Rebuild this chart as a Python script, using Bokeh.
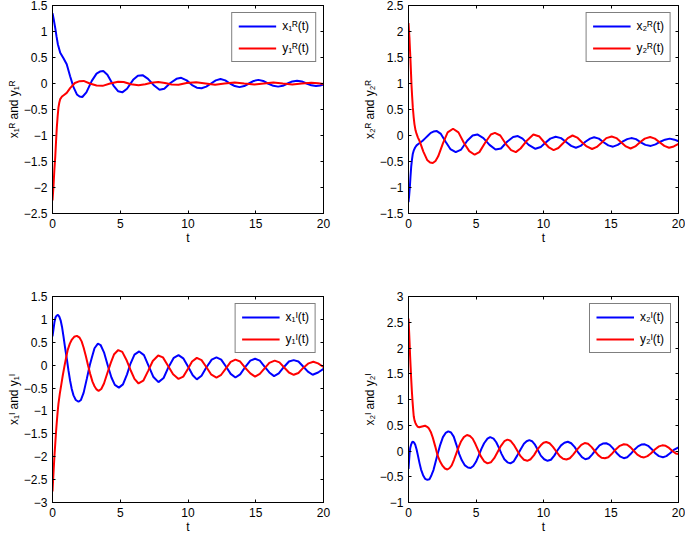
from bokeh.plotting import figure
from bokeh.models import Range1d, LinearAxis, FixedTicker, Legend, LegendItem
from bokeh.layouts import gridplot
from bokeh.embed import file_html
from bokeh.resources import INLINE

# ---------------- data ----------------
X_TICKS = [0, 5, 10, 15, 20]

# Panel 1 (top-left)
T_X1R = [0.0, 0.1, 0.2, 0.3, 0.4, 0.57, 0.8, 1.05, 1.3, 1.55, 1.8, 2.0, 2.2, 2.5, 2.9, 3.25, 3.5, 3.75,
         4.05, 4.5, 4.85, 5.15, 5.5, 5.95, 6.3, 6.65, 7.05, 7.5, 7.9, 8.25, 8.7, 9.15, 9.5, 9.9, 10.3,
         10.65, 11.0, 11.35, 11.7, 12.05, 12.4, 12.75, 13.1, 13.45, 13.8, 14.15, 14.5, 14.85, 15.2,
         15.55, 15.9, 16.3, 16.65, 17.0, 17.35, 17.7, 18.05, 18.4, 18.75, 19.1, 19.45, 19.75, 20.0]
V_X1R = [1.35, 1.22, 1.07, 0.9, 0.75, 0.59, 0.49, 0.37, 0.14, -0.07, -0.21, -0.25, -0.26, -0.17, 0.05,
         0.19, 0.23, 0.24, 0.17, -0.04, -0.15, -0.17, -0.10, 0.07, 0.15, 0.16, 0.09, -0.04, -0.12, -0.10,
         0.01, 0.09, 0.11, 0.06, -0.03, -0.08, -0.09, -0.06, 0.0, 0.06, 0.085, 0.06, 0.0, -0.05, -0.07,
         -0.05, 0.0, 0.05, 0.07, 0.05, 0.0, -0.045, -0.06, -0.045, 0.0, 0.04, 0.055, 0.04, 0.0, -0.035,
         -0.05, -0.04, -0.02]
T_Y1R = [0.0, 0.07, 0.14, 0.2, 0.26, 0.32, 0.38, 0.44, 0.5, 0.57, 0.7, 0.85, 1.05, 1.3, 1.65, 2.0, 2.3,
         2.75, 3.25, 3.7, 4.25, 4.85, 5.25, 5.8, 6.35, 6.85, 7.3, 7.8, 8.3, 8.8, 9.3, 9.9, 10.6, 11.3,
         12.0, 12.7, 13.45, 14.15, 14.9, 15.6, 16.3, 17.0, 17.7, 18.4, 19.1, 19.6, 20.0]
V_Y1R = [-2.25, -1.99, -1.65, -1.42, -1.12, -0.84, -0.63, -0.46, -0.37, -0.30, -0.25, -0.22, -0.18,
         -0.09, 0.01, 0.045, 0.05, 0.0, -0.04, -0.045, 0.0, 0.035, 0.03, -0.015, -0.035, -0.015, 0.015,
         0.03, 0.01, -0.02, -0.025, 0.01, 0.025, 0.0, -0.025, 0.0, 0.02, 0.0, -0.02, 0.0, 0.02, 0.0,
         -0.018, 0.0, 0.015, 0.005, -0.01]
Y1R_TICKS = [-2.5, -2, -1.5, -1, -0.5, 0, 0.5, 1, 1.5]

# Panel 2 (top-right)
T_X2R = [0.0, 0.05, 0.1, 0.15, 0.2, 0.26, 0.32, 0.4, 0.49, 0.6, 0.75, 0.9, 1.05, 1.25, 1.45, 1.65, 1.85,
         2.1, 2.4, 2.75, 3.1, 3.5, 3.9, 4.35, 4.75, 5.1, 5.55, 6.0, 6.45, 6.85, 7.3, 7.75, 8.1, 8.45, 8.9,
         9.4, 9.8, 10.1, 10.5, 10.9, 11.3, 11.7, 12.05, 12.4, 12.75, 13.1, 13.45, 13.75, 14.1, 14.45,
         14.8, 15.15, 15.5, 15.85, 16.2, 16.5, 16.85, 17.2, 17.55, 17.95, 18.3, 18.65, 19.0, 19.35,
         19.7, 20.0]
V_X2R = [-1.28, -1.15, -0.99, -0.78, -0.6, -0.46, -0.35, -0.28, -0.23, -0.19, -0.16, -0.13, -0.10, -0.05,
         0.0, 0.05, 0.075, 0.085, 0.03, -0.12, -0.26, -0.32, -0.27, -0.1, 0.0, 0.02, -0.05, -0.18, -0.27,
         -0.25, -0.12, -0.03, -0.01, -0.06, -0.18, -0.255, -0.22, -0.15, -0.06, -0.025, -0.05, -0.13,
         -0.2, -0.235, -0.2, -0.12, -0.06, -0.035, -0.06, -0.13, -0.19, -0.215, -0.18, -0.12, -0.07,
         -0.05, -0.07, -0.13, -0.18, -0.2, -0.17, -0.12, -0.08, -0.06, -0.08, -0.11]
T_Y2R = [0.0, 0.04, 0.07, 0.11, 0.15, 0.19, 0.22, 0.27, 0.32, 0.38, 0.44, 0.52, 0.6, 0.7, 0.81, 0.95, 1.1,
         1.38, 1.6, 1.8, 2.0, 2.2, 2.55, 2.9, 3.3, 3.7, 4.1, 4.5, 4.9, 5.25, 5.7, 6.1, 6.4, 6.8, 7.2, 7.6,
         7.95, 8.3, 8.8, 9.25, 9.7, 10.05, 10.4, 10.75, 11.1, 11.45, 11.8, 12.15, 12.5, 12.85, 13.2,
         13.6, 13.95, 14.3, 14.65, 15.05, 15.4, 15.75, 16.1, 16.45, 16.8, 17.15, 17.5, 17.9, 18.25,
         18.6, 18.95, 19.3, 19.65, 20.0]
V_Y2R = [2.16, 2.0, 1.88, 1.65, 1.43, 1.18, 0.98, 0.75, 0.54, 0.36, 0.22, 0.1, 0.03, -0.04, -0.1, -0.2,
         -0.31, -0.47, -0.52, -0.53, -0.49, -0.4, -0.15, 0.06, 0.13, 0.06, -0.14, -0.3, -0.37, -0.32,
         -0.13, 0.02, 0.05, 0.0, -0.16, -0.28, -0.32, -0.25, -0.09, 0.02, -0.02, -0.13, -0.23, -0.28,
         -0.24, -0.15, -0.05, 0.0, -0.04, -0.13, -0.21, -0.26, -0.22, -0.14, -0.05, -0.02, -0.05, -0.13,
         -0.21, -0.25, -0.21, -0.13, -0.06, -0.03, -0.06, -0.13, -0.2, -0.235, -0.21, -0.16]
Y2R_TICKS = [-1.5, -1, -0.5, 0, 0.5, 1, 1.5, 2, 2.5]

# Panel 3 (bottom-left)
T_X1I = [0.0, 0.08, 0.15, 0.22, 0.3, 0.4, 0.5, 0.6, 0.7, 0.81, 0.93, 1.06, 1.18, 1.3, 1.42, 1.55, 1.72,
         1.92, 2.1, 2.3, 2.53, 2.75, 2.9, 3.1, 3.35, 3.55, 3.8, 4.1, 4.35, 4.6, 4.9, 5.2, 5.5, 5.75, 6.05,
         6.4, 6.75, 7.1, 7.45, 7.82, 8.2, 8.55, 8.95, 9.3, 9.65, 10.0, 10.35, 10.65, 11.0, 11.35, 11.75,
         12.1, 12.45, 12.8, 13.15, 13.5, 13.85, 14.2, 14.6, 14.95, 15.3, 15.65, 16.0, 16.35, 16.7,
         17.05, 17.45, 17.8, 18.15, 18.5, 18.85, 19.2, 19.6, 20.0]
V_X1I = [0.63, 0.8, 0.95, 1.04, 1.08, 1.1, 1.06, 0.98, 0.84, 0.63, 0.38, 0.13, -0.12, -0.34, -0.52, -0.66,
         -0.76, -0.8, -0.76, -0.6, -0.3, 0.0, 0.16, 0.37, 0.47, 0.44, 0.28, -0.03, -0.27, -0.43, -0.49,
         -0.42, -0.2, 0.03, 0.23, 0.3, 0.22, -0.02, -0.26, -0.37, -0.28, -0.05, 0.16, 0.22, 0.15, -0.03,
         -0.22, -0.31, -0.23, -0.05, 0.12, 0.17, 0.12, -0.03, -0.19, -0.27, -0.2, -0.05, 0.1, 0.14, 0.1,
         -0.03, -0.16, -0.24, -0.18, -0.05, 0.08, 0.11, 0.08, -0.03, -0.14, -0.21, -0.16, -0.08]
T_Y1I = [0.0, 0.07, 0.14, 0.2, 0.26, 0.32, 0.38, 0.44, 0.54, 0.64, 0.76, 0.89, 1.0, 1.13, 1.28, 1.43, 1.6,
         1.8, 2.0, 2.15, 2.3, 2.46, 2.62, 2.78, 2.95, 3.1, 3.25, 3.4, 3.6, 3.8, 4.05, 4.3, 4.55, 4.85,
         5.15, 5.45, 5.75, 6.05, 6.35, 6.7, 7.05, 7.4, 7.8, 8.15, 8.5, 8.9, 9.3, 9.65, 10.0, 10.3, 10.65,
         11.0, 11.35, 11.7, 12.1, 12.45, 12.8, 13.15, 13.5, 13.85, 14.2, 14.6, 14.95, 15.3, 15.65, 16.0,
         16.4, 16.75, 17.1, 17.45, 17.8, 18.15, 18.5, 18.9, 19.25, 19.6, 20.0]
V_Y1I = [-2.76, -2.37, -2.0, -1.73, -1.46, -1.23, -1.02, -0.84, -0.62, -0.44, -0.22, -0.01, 0.16, 0.34,
         0.47, 0.56, 0.62, 0.64, 0.6, 0.52, 0.38, 0.2, 0.0, -0.19, -0.36, -0.46, -0.53, -0.56, -0.52,
         -0.4, -0.17, 0.05, 0.24, 0.33, 0.29, 0.12, -0.1, -0.3, -0.4, -0.34, -0.13, 0.09, 0.21, 0.17, 0.0,
         -0.2, -0.3, -0.25, -0.08, 0.08, 0.16, 0.11, -0.04, -0.2, -0.27, -0.21, -0.07, 0.07, 0.12, 0.08,
         -0.05, -0.18, -0.25, -0.19, -0.07, 0.05, 0.1, 0.06, -0.05, -0.16, -0.21, -0.17, -0.06, 0.04,
         0.075, 0.04, -0.04]
Y1I_TICKS = [-3, -2.5, -2, -1.5, -1, -0.5, 0, 0.5, 1, 1.5]

# Panel 4 (bottom-right)
T_X2I = [0.0, 0.04, 0.08, 0.13, 0.2, 0.27, 0.34, 0.42, 0.5, 0.6, 0.7, 0.82, 0.93, 1.08, 1.23, 1.4, 1.55,
         1.7, 1.85, 2.0, 2.16, 2.35, 2.55, 2.75, 2.95, 3.15, 3.35, 3.55, 3.76, 3.95, 4.18, 4.4, 4.6, 4.8,
         5.0, 5.2, 5.4, 5.6, 5.85, 6.05, 6.3, 6.5, 6.7, 6.9, 7.1, 7.33, 7.55, 7.8, 8.05, 8.3, 8.55, 8.75,
         8.95, 9.15, 9.35, 9.6, 9.8, 10.05, 10.3, 10.55, 10.8, 11.05, 11.3, 11.55, 11.8, 12.05, 12.3,
         12.55, 12.85, 13.1, 13.35, 13.6, 13.9, 14.15, 14.4, 14.65, 14.9, 15.15, 15.45, 15.7, 15.95,
         16.2, 16.45, 16.75, 17.0, 17.25, 17.5, 17.75, 18.0, 18.3, 18.55, 18.85, 19.1, 19.35, 19.65, 20.0]
V_X2I = [-0.35, -0.2, -0.05, 0.06, 0.13, 0.17, 0.18, 0.16, 0.12, 0.03, -0.09, -0.24, -0.36, -0.47, -0.54,
         -0.56, -0.55, -0.47, -0.37, -0.22, -0.06, 0.12, 0.27, 0.35, 0.38, 0.36, 0.28, 0.12, -0.06, -0.18,
         -0.28, -0.32, -0.33, -0.29, -0.21, -0.09, 0.04, 0.15, 0.24, 0.27, 0.24, 0.17, 0.06, -0.06, -0.16,
         -0.22, -0.24, -0.2, -0.09, 0.03, 0.14, 0.19, 0.21, 0.19, 0.13, 0.01, -0.09, -0.16, -0.19, -0.17,
         -0.09, 0.02, 0.11, 0.16, 0.18, 0.15, 0.08, -0.02, -0.12, -0.16, -0.14, -0.07, 0.03, 0.11, 0.145,
         0.15, 0.12, 0.05, -0.05, -0.11, -0.14, -0.12, -0.06, 0.03, 0.09, 0.125, 0.13, 0.1, 0.04, -0.05,
         -0.1, -0.12, -0.1, -0.05, 0.02, 0.07]
T_Y2I = [0.0, 0.03, 0.05, 0.08, 0.12, 0.16, 0.2, 0.25, 0.3, 0.35, 0.39, 0.45, 0.52, 0.6, 0.69, 0.8, 0.93,
         1.08, 1.23, 1.38, 1.5, 1.65, 1.8, 1.98, 2.16, 2.35, 2.53, 2.7, 2.88, 3.05, 3.2, 3.37, 3.55, 3.72,
         3.9, 4.1, 4.33, 4.55, 4.75, 4.95, 5.15, 5.35, 5.6, 5.85, 6.1, 6.35, 6.6, 6.85, 7.1, 7.33, 7.55,
         7.8, 8.05, 8.3, 8.55, 8.8, 9.05, 9.3, 9.55, 9.8, 10.0, 10.2, 10.45, 10.7, 10.95, 11.2, 11.45,
         11.7, 11.95, 12.2, 12.5, 12.8, 13.05, 13.3, 13.55, 13.8, 14.05, 14.3, 14.55, 14.8, 15.05, 15.35,
         15.65, 15.95, 16.2, 16.45, 16.7, 16.95, 17.2, 17.45, 17.7, 17.95, 18.25, 18.55, 18.8, 19.05,
         19.3, 19.55, 19.8, 20.0]
V_Y2I = [2.57, 2.4, 2.29, 2.1, 1.84, 1.62, 1.4, 1.16, 0.96, 0.79, 0.67, 0.59, 0.54, 0.5, 0.47, 0.46, 0.47,
         0.48, 0.49, 0.47, 0.44, 0.37, 0.26, 0.09, -0.09, -0.21, -0.29, -0.34, -0.36, -0.33, -0.28, -0.17,
         -0.04, 0.08, 0.19, 0.27, 0.31, 0.29, 0.24, 0.14, 0.02, -0.1, -0.2, -0.24, -0.22, -0.14, -0.02,
         0.1, 0.19, 0.22, 0.2, 0.12, 0.01, -0.1, -0.17, -0.19, -0.16, -0.08, 0.03, 0.11, 0.16, 0.175,
         0.15, 0.08, -0.01, -0.1, -0.15, -0.165, -0.14, -0.07, 0.03, 0.12, 0.155, 0.14, 0.08, 0.0, -0.08,
         -0.13, -0.14, -0.12, -0.06, 0.03, 0.1, 0.13, 0.12, 0.07, 0.0, -0.07, -0.11, -0.125, -0.1, -0.05,
         0.03, 0.09, 0.11, 0.1, 0.06, 0.0, -0.05, -0.06]
Y2I_TICKS = [-1, -0.5, 0, 0.5, 1, 1.5, 2, 2.5, 3]

# ---------------- styling ----------------
FONT = "Liberation Sans"
BLUE = "#0000ff"
RED = "#ff0000"


def fmt(v):
    s = ("%g" % abs(v))
    return ("\u2212" + s) if v < 0 else s


def style_axis(ax, ticks, show_labels=True):
    ax.ticker = FixedTicker(ticks=ticks)
    ax.major_tick_in = 3
    ax.major_tick_out = 0
    ax.minor_tick_line_color = None
    ax.axis_line_color = "black"
    ax.axis_line_width = 1
    ax.major_tick_line_color = "black"
    if show_labels:
        ax.major_label_overrides = {t: fmt(t) for t in ticks}
        ax.major_label_text_font = FONT
        ax.major_label_text_font_size = "12px"
        ax.major_label_text_color = "black"
        ax.major_label_standoff = 5
        ax.axis_label_text_font = FONT
        ax.axis_label_text_font_size = "12px"
        ax.axis_label_text_font_style = "normal"
        ax.axis_label_text_color = "black"
        ax.axis_label_standoff = 0
    else:
        ax.major_label_overrides = {t: "" for t in ticks}
        ax.major_label_standoff = 0
        ax.major_label_text_font_size = "1px"


def panel(tb, vb, tr, vr, yr, yticks, ylabel, lab_b, lab_r, left_col, top_row):
    p = figure(
        frame_width=271 if left_col else 270,
        frame_height=208 if top_row else 206,
        min_border_left=52,
        min_border_right=33 if left_col else 7,
        min_border_top=5 if top_row else 6,
        min_border_bottom=77 if top_row else 33,
        x_range=Range1d(0, 20), y_range=Range1d(yr[0], yr[1]),
        output_backend="svg", toolbar_location=None,
        x_axis_label="t", y_axis_label=ylabel,
    )
    p.grid.visible = False
    p.outline_line_color = "black"
    p.outline_line_width = 1
    p.background_fill_color = "white"
    p.border_fill_color = "white"
    style_axis(p.xaxis[0], X_TICKS)
    style_axis(p.yaxis[0], yticks)
    top = LinearAxis()
    style_axis(top, X_TICKS, show_labels=False)
    p.add_layout(top, "above")
    right = LinearAxis()
    style_axis(right, yticks, show_labels=False)
    p.add_layout(right, "right")

    rb = p.line(tb, vb, line_color=BLUE, line_width=2)
    rr = p.line(tr, vr, line_color=RED, line_width=2)
    legend = Legend(
        items=[LegendItem(label=lab_b, renderers=[rb]), LegendItem(label=lab_r, renderers=[rr])],
        location="top_right", margin=7, padding=6, spacing=8,
        glyph_width=38, glyph_height=14, label_height=14, label_standoff=6,
        label_text_font=FONT, label_text_font_size="12px", label_text_color="black",
        border_line_color="black", border_line_width=1, background_fill_alpha=1.0,
    )
    p.add_layout(legend)
    return p


p1 = panel(T_X1R, V_X1R, T_Y1R, V_Y1R, (-2.5, 1.5), Y1R_TICKS,
           "x\u2081\u1D3F and y\u2081\u1D3F", "x\u2081\u1D3F(t)", "y\u2081\u1D3F(t)", True, True)
p2 = panel(T_X2R, V_X2R, T_Y2R, V_Y2R, (-1.5, 2.5), Y2R_TICKS,
           "x\u2082\u1D3F and y\u2082\u1D3F", "x\u2082\u1D3F(t)", "y\u2082\u1D3F(t)", False, True)
p3 = panel(T_X1I, V_X1I, T_Y1I, V_Y1I, (-3, 1.5), Y1I_TICKS,
           "x\u2081\u1D35 and y\u2081\u1D35", "x\u2081\u1D35(t)", "y\u2081\u1D35(t)", True, False)
p4 = panel(T_X2I, V_X2I, T_Y2I, V_Y2I, (-1, 3), Y2I_TICKS,
           "x\u2082\u1D35 and y\u2082\u1D35", "x\u2082\u1D35(t)", "y\u2082\u1D35(t)", False, False)

grid = gridplot([[p1, p2], [p3, p4]], toolbar_location=None)

open("out.html", "w").write(file_html(grid, INLINE))
